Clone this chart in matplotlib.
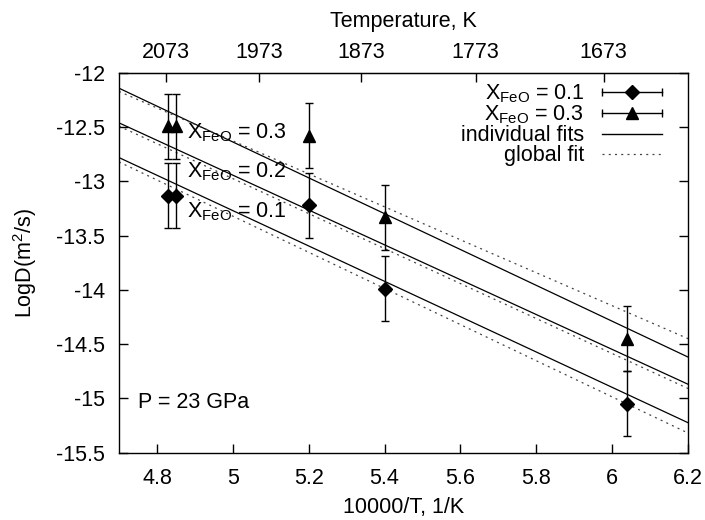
import numpy as np
import matplotlib
matplotlib.use("Agg")
import matplotlib.pyplot as plt
from matplotlib.lines import Line2D
from matplotlib.legend_handler import HandlerBase

plt.rcParams["font.family"] = ["Liberation Sans", "DejaVu Sans"]
plt.rcParams["mathtext.fontset"] = "custom"
plt.rcParams["mathtext.rm"] = "Liberation Sans"
plt.rcParams["mathtext.it"] = "Liberation Sans"

FS = 15.5

# ---------------------------------------------------------------------------
# Data
# ---------------------------------------------------------------------------
inv_T_01 = [4.83, 4.85, 5.20, 5.40, 6.04]          # 10000/T, X_FeO = 0.1
logD_01 = [-13.13, -13.13, -13.22, -13.99, -15.05]
err_01 = [0.30, 0.30, 0.30, 0.30, 0.30]

inv_T_03 = [4.83, 4.85, 5.20, 5.40, 6.04]          # 10000/T, X_FeO = 0.3
logD_03 = [-12.49, -12.49, -12.58, -13.33, -14.45]
err_03 = [0.30, 0.30, 0.30, 0.30, 0.30]

# fits: logD = a + b * (10000/T), order X_FeO = 0.3, 0.2, 0.1
fit_labels = ["0.3", "0.2", "0.1"]
indiv_a = [-4.371, -4.907, -5.119]
indiv_b = [-1.653, -1.607, -1.630]
global_a = [-5.026, -4.909, -4.985]
global_b = [-1.520, -1.613, -1.667]

temp_ticks = [2073, 1973, 1873, 1773, 1673]


class ErrbarHandler(HandlerBase):
    """gnuplot-like key sample: horizontal bar with caps and a marker."""

    def create_artists(self, legend, orig_handle, xdescent, ydescent,
                       width, height, fontsize, trans):
        y = height / 2 - ydescent
        x0, x1 = -xdescent, width - xdescent
        bar = Line2D([x0, x1], [y, y], color="black", lw=1.0)
        caps = Line2D([x0, x1], [y, y], ls="none", marker="|",
                      markersize=6, mew=1.0, color="black")
        mk = Line2D([(x0 + x1) / 2], [y], ls="none",
                    marker=orig_handle.get_marker(),
                    markersize=orig_handle.get_markersize(),
                    color="black")
        for a in (bar, caps, mk):
            a.set_transform(trans)
        return [bar, caps, mk]


fig = plt.figure(figsize=(7.05, 5.2), dpi=100)
ax = fig.add_axes([0.1688, 0.1298, 0.8071, 0.7298])

xx = np.linspace(4.7, 6.2, 50)
for a, b in zip(indiv_a, indiv_b):
    ax.plot(xx, a + b * xx, color="black", lw=0.9)
for a, b in zip(global_a, global_b):
    ax.plot(xx, a + b * xx, color="#444444", lw=0.9, dashes=(1.6, 3.4))

ax.errorbar(inv_T_01, logD_01, yerr=err_01, fmt="D", color="black",
            markersize=7, elinewidth=1.0, capsize=3, capthick=1.0)
ax.errorbar(inv_T_03, logD_03, yerr=err_03, fmt="^", color="black",
            markersize=8, elinewidth=1.0, capsize=3, capthick=1.0)

# curve labels
for lab, ytxt in zip(fit_labels, [-12.60, -12.96, -13.33]):
    ax.text(4.878, ytxt, r"$\mathregular{X_{FeO}}$ = " + lab,
            fontsize=FS, ha="left", va="baseline")

ax.text(4.75, -15.04, "P = 23 GPa", fontsize=FS, ha="left", va="center")

ax.set_xlim(4.7, 6.2)
ax.set_ylim(-15.5, -12)
ax.set_xticks(np.arange(4.8, 6.21, 0.2))
ax.set_xticklabels(["4.8", "5", "5.2", "5.4", "5.6", "5.8", "6", "6.2"])
ax.set_yticks(np.arange(-15.5, -11.9, 0.5))
ax.set_yticklabels(["-15.5", "-15", "-14.5", "-14", "-13.5", "-13",
                    "-12.5", "-12"])
ax.tick_params(axis="x", direction="in", top=False, length=6.5, width=1,
               labelsize=FS, pad=11)
ax.tick_params(axis="y", direction="in", right=True, length=6.5, width=1,
               labelsize=FS, pad=10)
for sp in ax.spines.values():
    sp.set_linewidth(1.0)

ax.set_xlabel("10000/T, 1/K", fontsize=FS, labelpad=6)
ax.set_ylabel(r"LogD(m$^{\mathregular{2}}$/s)", fontsize=FS, labelpad=12)

sec = ax.secondary_xaxis("top", functions=(lambda x: 10000 / x,
                                           lambda t: 10000 / t))
sec.set_xticks(temp_ticks)
sec.set_xticklabels([str(t) for t in temp_ticks])
sec.tick_params(direction="in", length=6.5, width=1, labelsize=FS, pad=7)
sec.set_xlabel("Temperature, K", fontsize=FS, labelpad=11)

h01 = Line2D([], [], marker="D", markersize=7, color="black")
h03 = Line2D([], [], marker="^", markersize=8, color="black")
hind = Line2D([], [], color="black", lw=1.0)
hglob = Line2D([], [], color="#444444", lw=0.9, dashes=(1.6, 3.4))
leg = ax.legend([h01, h03, hind, hglob],
                [r"$\mathregular{X_{FeO}}$ = 0.1",
                 r"$\mathregular{X_{FeO}}$ = 0.3",
                 "individual fits", "global fit"],
                handler_map={h01: ErrbarHandler(), h03: ErrbarHandler()},
                loc="upper right", bbox_to_anchor=(0.954, 0.976),
                frameon=False, markerfirst=False, fontsize=FS,
                handlelength=2.8, handletextpad=0.8, labelspacing=-0.05,
                borderaxespad=0.0, borderpad=0.0)

fig.savefig("out.png", dpi=100)
